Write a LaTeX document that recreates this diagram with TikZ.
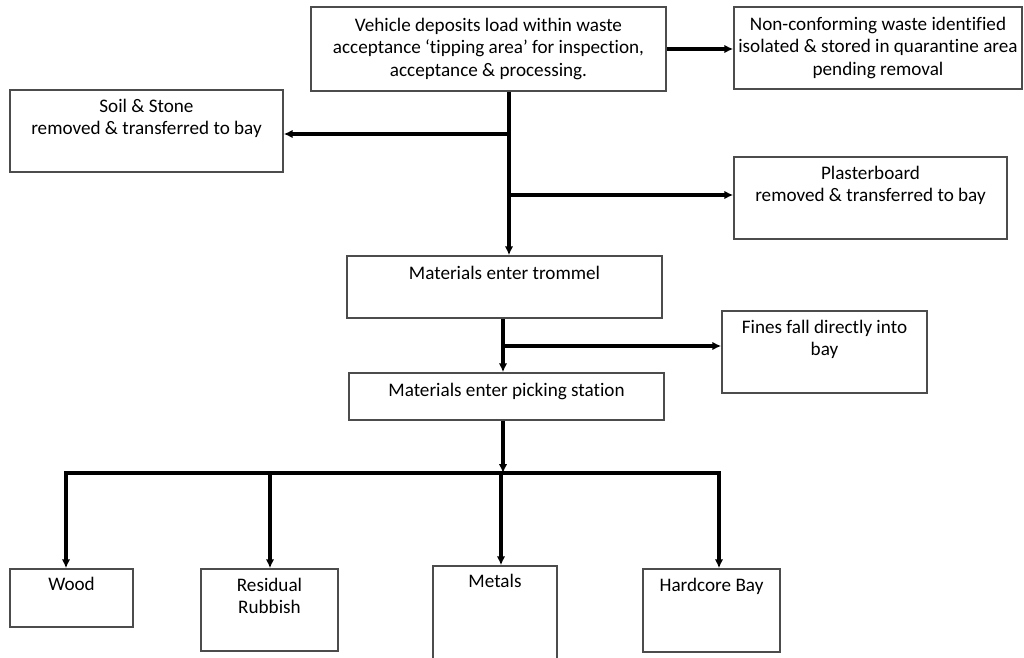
\documentclass[tikz,border=0pt]{standalone}
\usepackage{fontspec}
\setmainfont[Ligatures={NoCommon}]{Carlito}
\usetikzlibrary{arrows.meta}

\begin{document}
\begin{tikzpicture}[x=0.02cm, y=-0.02cm,
  box/.style={draw=black!70, line width=0.9pt, align=center, inner sep=0pt, font=\fontsize{10.9}{12.6}\selectfont},
  flow/.style={line width=1.9pt, line join=miter, -{Latex[length=5pt, width=4.8pt]}}]
  \path[use as bounding box, fill=white] (0, 0) rectangle (1024, 658);
  \node[box, minimum width=7.10cm, minimum height=1.68cm] (vehicle) at (488.5, 49) {Vehicle deposits load within waste\\acceptance ‘tipping area’ for inspection,\\acceptance \& processing.};
  \node[box, minimum width=5.76cm, minimum height=1.64cm] (quarantine) at (878, 48) {Non-conforming waste identified\\isolated \& stored in quarantine area\\pending removal};
  \node[box, minimum width=5.46cm, minimum height=1.64cm] (soil) at (146.5, 131) {Soil \& Stone\\removed \& transferred to bay\\\strut};
  \node[box, minimum width=5.46cm, minimum height=1.64cm] (plaster) at (870.5, 198) {Plasterboard\\removed \& transferred to bay\\\strut};
  \node[box, minimum width=6.30cm, minimum height=1.24cm] (trommel) at (504.5, 287) {Materials enter trommel\\\strut};
  \node[box, minimum width=4.10cm, minimum height=1.64cm] (fines) at (824.5, 352) {Fines fall directly into\\bay\\\strut};
  \node[box, minimum width=6.30cm, minimum height=0.94cm, text depth=8pt] (picking) at (506.5, 396.5) {Materials enter picking station};
  \node[box, minimum width=2.46cm, minimum height=1.16cm] (wood) at (71.5, 598) {Wood\\\strut};
  \node[box, minimum width=2.74cm, minimum height=1.64cm] (rubbish) at (269.5, 610) {Residual\\Rubbish\\\strut};
  \node[box, minimum width=2.48cm, minimum height=2.48cm] (metals) at (495, 628) {Metals\\\strut\\\strut\\\strut\\\strut};
  \node[box, minimum width=2.74cm, minimum height=1.66cm] (hardcore) at (711.5, 610.5) {Hardcore Bay\\\strut\\\strut};

  \coordinate (tosoil) at (509, 134);
  \coordinate (toplaster) at (509, 195);
  \coordinate (tofines) at (503, 346);
  \coordinate (split) at (503, 473);
  \coordinate (towood) at (66, 473);
  \coordinate (torubbish) at (270, 473);
  \coordinate (tometals) at (501, 473);
  \coordinate (tohardcore) at (719, 473);

  \draw[flow] (vehicle.east) -- (vehicle.east -| quarantine.west);
  \draw[flow] (vehicle.south -| tosoil) -- (tosoil |- trommel.north);
  \draw[flow] (tosoil) -- (tosoil -| soil.east);
  \draw[flow] (toplaster) -- (toplaster -| plaster.west);
  \draw[flow] (trommel.south -| tofines) -- (tofines |- picking.north);
  \draw[flow] (tofines) -- (tofines -| fines.west);
  \draw[flow] (picking.south -| split) -- (split);
  \draw[flow] (split) -- (towood) -- (towood |- wood.north);
  \draw[flow] (split) -- (tohardcore) -- (tohardcore |- hardcore.north);
  \draw[flow] (torubbish) -- (torubbish |- rubbish.north);
  \draw[flow] (tometals) -- (tometals |- metals.north);
\end{tikzpicture}
\end{document}
